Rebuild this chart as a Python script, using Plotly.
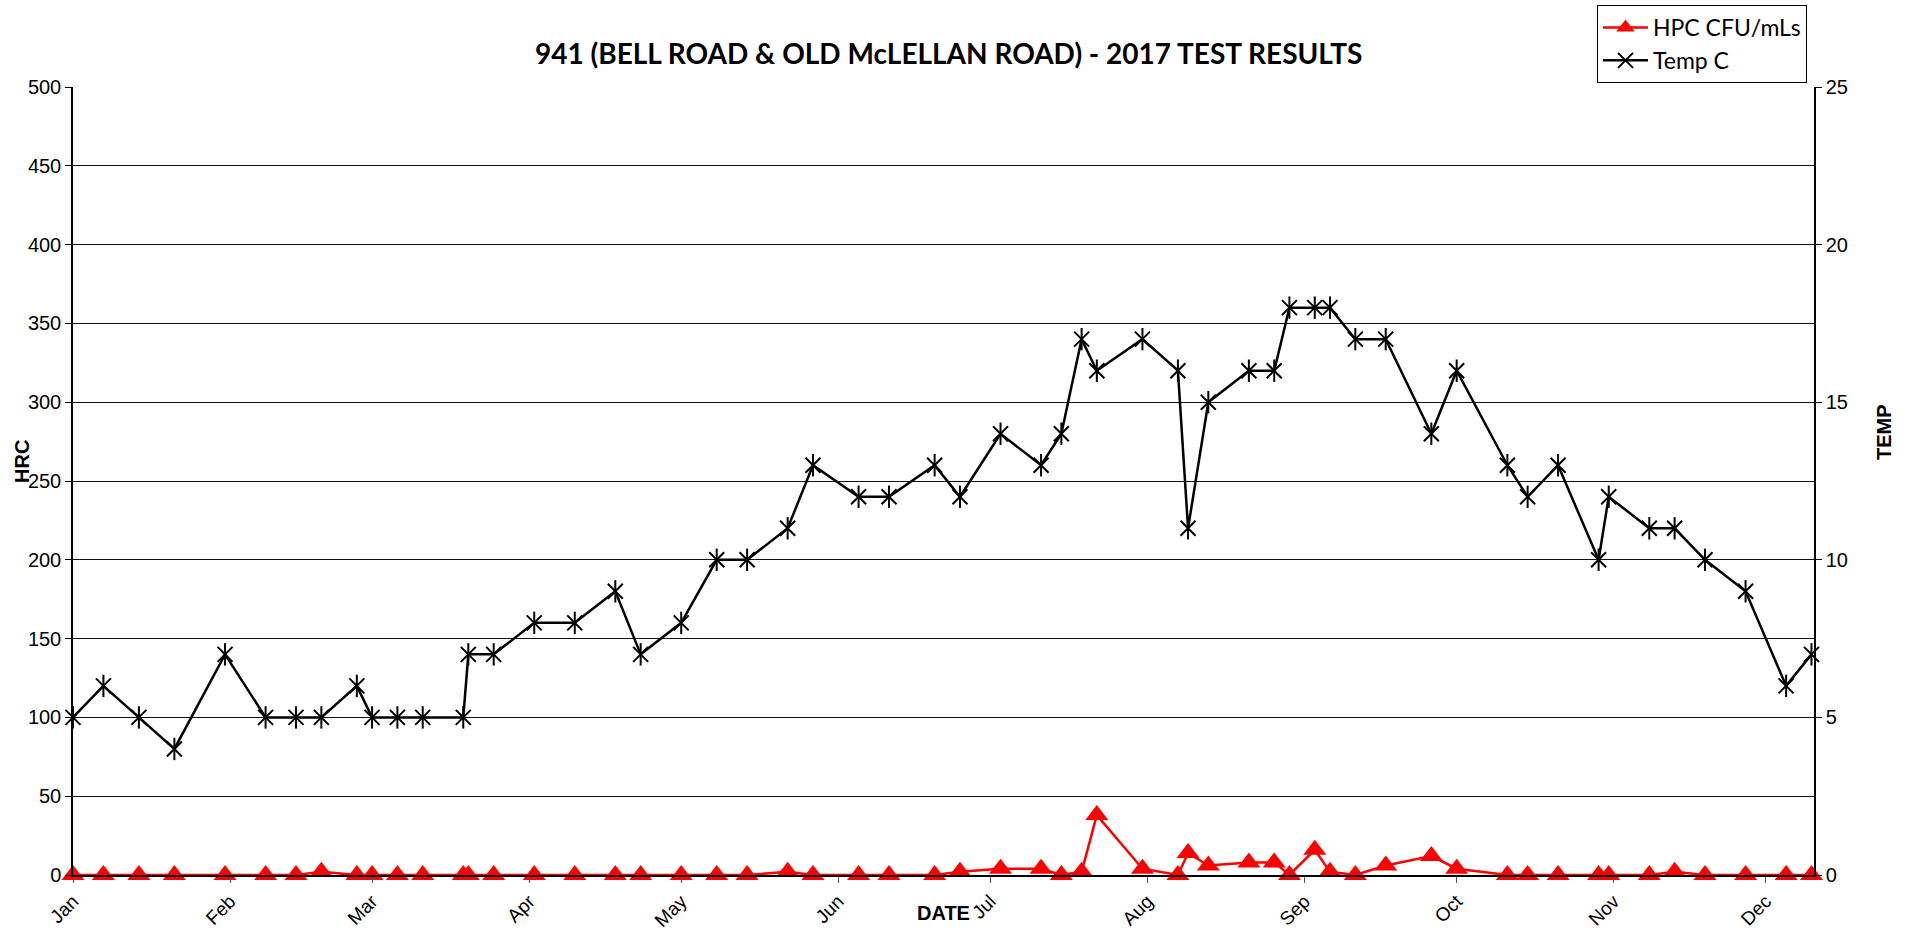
import plotly.graph_objects as go

# Sample dates (2017) shared by both series
dates = [
    "2017-01-01", "2017-01-07", "2017-01-14", "2017-01-21", "2017-01-31",
    "2017-02-08", "2017-02-14", "2017-02-19", "2017-02-26", "2017-03-01",
    "2017-03-06", "2017-03-11", "2017-03-19", "2017-03-20", "2017-03-25",
    "2017-04-02", "2017-04-10", "2017-04-18", "2017-04-23", "2017-05-01",
    "2017-05-08", "2017-05-14", "2017-05-22", "2017-05-27", "2017-06-05",
    "2017-06-11", "2017-06-20", "2017-06-25", "2017-07-03", "2017-07-11",
    "2017-07-15", "2017-07-19", "2017-07-22", "2017-07-31", "2017-08-07",
    "2017-08-09", "2017-08-13", "2017-08-21", "2017-08-26", "2017-08-29",
    "2017-09-03", "2017-09-06", "2017-09-11", "2017-09-17", "2017-09-26",
    "2017-10-01", "2017-10-11", "2017-10-15", "2017-10-21", "2017-10-29",
    "2017-10-31", "2017-11-08", "2017-11-13", "2017-11-19", "2017-11-27",
    "2017-12-05", "2017-12-10",
]

hpc_cfu = [
    0, 0, 0, 0, 0, 0, 0, 2, 0, 0, 0, 0, 0, 0, 0, 0,
    0, 0, 0, 0, 0, 0, 2, 0, 0, 0, 0, 2,
    4, 4, 0, 2, 38, 4, 0, 14, 6, 8, 8, 0, 16, 2, 0, 6, 12,
    4, 0, 0, 0, 0, 0, 0, 2, 0, 0, 0, 0,
]

temp_c = [
    5, 6, 5, 4, 7, 5, 5, 5, 6, 5, 5, 5, 5, 7, 7, 8,
    8, 9, 7, 8, 10, 10, 11, 13, 12, 12, 13, 12,
    14, 13, 14, 17, 16, 17, 16, 11, 15, 16, 16, 18, 18, 18, 17, 17, 14,
    16, 13, 12, 13, 10, 12, 11, 11, 10, 9, 6, 7,
]

title_text = "941 (BELL ROAD & OLD McLELLAN ROAD) - 2017 TEST RESULTS"
axis_font = "Liberation Sans, Arial, sans-serif"
label_font = "Lato, Open Sans, sans-serif"

fig = go.Figure()

fig.add_trace(go.Scatter(
    x=dates, y=hpc_cfu, name="HPC CFU/mLs", mode="lines+markers",
    legendgroup="hpc", cliponaxis=False,
    line=dict(color="#ff0000", width=2.5),
    marker=dict(symbol="triangle-up", size=20, color="#ff0000"),
    yaxis="y",
))

fig.add_trace(go.Scatter(
    x=dates, y=temp_c, name="Temp C", mode="lines+markers",
    legendgroup="temp", cliponaxis=False,
    line=dict(color="#000000", width=2.5),
    marker=dict(symbol="x-thin-open", size=15, color="#000000",
                line=dict(color="#000000", width=2)),
    yaxis="y2",
))
# vertical stroke completing the asterisk marker
fig.add_trace(go.Scatter(
    x=dates, y=temp_c, mode="markers", showlegend=False, hoverinfo="skip",
    legendgroup="temp", cliponaxis=False,
    marker=dict(symbol="line-ns-open", size=16, color="#000000",
                line=dict(color="#000000", width=2)),
    yaxis="y2",
))

fig.update_layout(
    width=1908, height=935,
    margin=dict(l=73, r=94, t=87, b=60, autoexpand=False),
    paper_bgcolor="white", plot_bgcolor="white",
    showlegend=True,
    legend=dict(
        x=(1597 - 73) / 1741, y=(875 - 5) / 788,
        xanchor="left", yanchor="top",
        bgcolor="white", bordercolor="#000000", borderwidth=1,
        font=dict(family=label_font, size=23, color="#000000"),
        tracegroupgap=0, itemwidth=45,
    ),
    xaxis=dict(
        type="date",
        range=["2017-01-01", "2017-12-10 12:00"],
        tick0="2017-01-01", dtick="M1", tickformat="%b",
        tickangle=-45,
        tickfont=dict(family=axis_font, size=19, color="#000000"),
        showgrid=False, showline=True, linecolor="#000000", linewidth=1.5,
        ticks="outside", ticklen=6, tickcolor="#555555",
        zeroline=False,
    ),
    yaxis=dict(
        range=[0, 500], dtick=50,
        tickfont=dict(family=axis_font, size=20, color="#000000"),
        showgrid=True, gridcolor="#111111", gridwidth=1,
        showline=True, linecolor="#000000", linewidth=1.5,
        ticks="outside", ticklen=6, tickcolor="#000000",
        zeroline=False,
    ),
    yaxis2=dict(
        range=[0, 25], dtick=5, overlaying="y", side="right",
        tickfont=dict(family=axis_font, size=20, color="#000000"),
        showgrid=False,
        showline=True, linecolor="#000000", linewidth=1.5,
        ticks="outside", ticklen=6, tickcolor="#000000",
        zeroline=False,
    ),
    annotations=[
        dict(text="<b>" + title_text + "</b>", xref="paper", yref="paper",
             x=(949 - 73) / 1741, y=(875 - 53) / 788,
             xanchor="center", yanchor="middle",
             showarrow=False,
             font=dict(family=label_font, size=28, color="#000000")),
        dict(text="<b>HRC</b>", xref="paper", yref="paper",
             x=(22 - 73) / 1741, y=(875 - 462) / 788,
             xanchor="center", yanchor="middle", textangle=-90,
             showarrow=False,
             font=dict(family=axis_font, size=20, color="#000000")),
        dict(text="<b>TEMP</b>", xref="paper", yref="paper",
             x=(1884 - 73) / 1741, y=(875 - 432) / 788,
             xanchor="center", yanchor="middle", textangle=-90,
             showarrow=False,
             font=dict(family=axis_font, size=20, color="#000000")),
        dict(text="<b>DATE</b>", xref="paper", yref="paper",
             x=(943 - 73) / 1741, y=(875 - 913) / 788,
             xanchor="center", yanchor="middle",
             showarrow=False,
             font=dict(family=axis_font, size=20, color="#000000")),
    ],
)

fig.write_html("out.html")
